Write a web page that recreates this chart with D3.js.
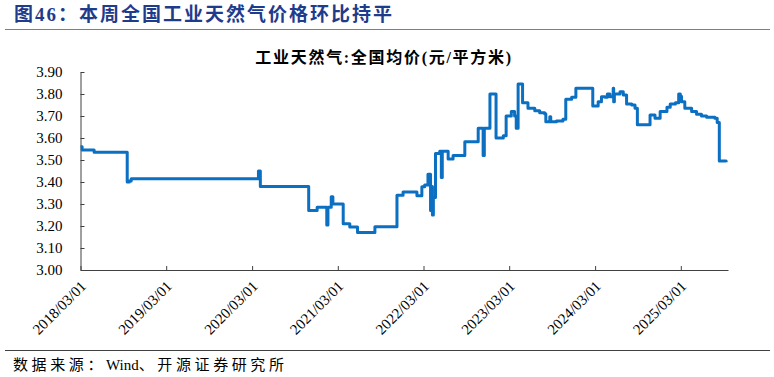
<!DOCTYPE html>
<meta charset="utf-8">
<style>
body { margin: 0; background: #fff; }
text { font-family: "Liberation Serif", "Noto Sans CJK SC", serif; }
.axis path, .axis line { stroke: #404040; }
.axis text { fill: #000; font-size: 15px; }
</style>
<body>
<script src="https://d3js.org/d3.v7.min.js"></script>
<script>

const width = 774
const height = 377

// series: weekly observed change points
const dates = ['2018-03-01','2018-03-08','2018-04-28','2018-09-16','2018-09-25','2018-10-03',
  '2020-03-28','2020-04-05','2020-10-28','2020-12-03','2021-01-13','2021-01-18','2021-02-01',
  '2021-02-08','2021-03-24','2021-04-21','2021-05-24','2021-08-06','2021-11-08','2021-12-04',
  '2022-02-01','2022-02-22','2022-03-06','2022-03-20','2022-03-31','2022-04-04','2022-04-08',
  '2022-04-12','2022-04-21','2022-05-09','2022-05-16','2022-05-20','2022-06-14','2022-07-05',
  '2022-08-24','2022-10-20','2022-11-10','2022-11-15','2022-12-09','2023-01-04','2023-02-04',
  '2023-02-16','2023-03-10','2023-03-24','2023-03-31','2023-04-08','2023-04-27','2023-05-20',
  '2023-06-18','2023-07-09','2023-07-30','2023-08-04','2023-08-21','2023-08-25','2023-09-18',
  '2023-10-16','2023-10-28','2023-11-22','2023-12-10','2024-02-20','2024-03-14','2024-03-28',
  '2024-04-12','2024-04-22','2024-05-03','2024-05-17','2024-05-19','2024-05-22','2024-06-15',
  '2024-06-29','2024-07-13','2024-08-04','2024-08-18','2024-08-28','2024-10-21','2024-11-11',
  '2024-12-03','2025-01-01','2025-01-15','2025-02-06','2025-02-20','2025-02-27','2025-03-04',
  '2025-03-18','2025-04-16','2025-05-07','2025-05-28','2025-06-19','2025-07-24','2025-08-03',
  '2025-08-12','2025-09-10']
const prices = [3.56,3.545,3.535,3.40,3.405,3.415,
  3.45,3.38,3.27,3.285,3.205,3.285,3.333,
  3.30,3.21,3.195,3.17,3.197,3.34,3.355,
  3.338,3.378,3.386,3.435,3.27,3.38,3.25,
  3.33,3.53,3.54,3.42,3.54,3.505,3.52,
  3.583,3.644,3.52,3.644,3.80,3.60,3.61,
  3.70,3.72,3.70,3.644,3.845,3.76,3.735,
  3.724,3.715,3.71,3.674,3.697,3.674,3.677,
  3.685,3.776,3.785,3.826,3.745,3.765,3.788,
  3.785,3.80,3.788,3.826,3.765,3.80,3.81,
  3.795,3.755,3.75,3.735,3.66,3.705,3.69,
  3.72,3.74,3.755,3.76,3.80,3.79,3.765,
  3.735,3.72,3.708,3.70,3.694,3.69,3.67,
  3.495,3.49]

const xTickLabels = ['2018/03/01','2019/03/01','2020/03/01','2021/03/01',
  '2022/03/01','2023/03/01','2024/03/01','2025/03/01']
const yTicks = [3.0,3.1,3.2,3.3,3.4,3.5,3.6,3.7,3.8,3.9]

const parse = d3.timeParse('%Y-%m-%d')
const parseTick = d3.timeParse('%Y/%m/%d')
const data = dates.map((d, i) => ({ date: parse(d), value: prices[i] }))

const svg = d3.select('body').append('svg')
  .attr('width', width)
  .attr('height', height)

// header
svg.append('text')
  .attr('x', 14).attr('y', 21)
  .attr('fill', '#1f3b8c')
  .style('font-size', '19px')
  .style('font-weight', 'bold')
  .style('letter-spacing', '2px')
  .text('图46：本周全国工业天然气价格环比持平')

svg.append('line')
  .attr('x1', 5).attr('x2', 770).attr('y1', 29.5).attr('y2', 29.5)
  .attr('stroke', '#7f7f7f').attr('stroke-width', 1)

svg.append('text')
  .attr('x', 384).attr('y', 63)
  .attr('text-anchor', 'middle')
  .style('font-size', '16px')
  .style('font-weight', 'bold')
  .style('letter-spacing', '1.7px')
  .text('工业天然气:全国均价(元/平方米)')

const x = d3.scaleTime()
  .domain([parse('2018-03-01'), parse('2025-09-18')])
  .range([80.5, 728])

const y = d3.scaleLinear()
  .domain([3.0, 3.9])
  .range([270, 72])

svg.append('g')
  .attr('class', 'axis')
  .attr('transform', 'translate(80.5,0)')
  .call(d3.axisLeft(y).tickValues(yTicks).tickFormat(d3.format('.2f'))
    .tickSizeInner(-4).tickSizeOuter(0).tickPadding(18))

const xAxis = svg.append('g')
  .attr('class', 'axis')
  .attr('transform', 'translate(0,270)')
  .call(d3.axisBottom(x).tickValues(xTickLabels.map(parseTick))
    .tickFormat((d, i) => xTickLabels[i])
    .tickSizeInner(-4).tickSizeOuter(0))

xAxis.selectAll('text')
  .attr('text-anchor', 'end')
  .attr('dy', 0)
  .attr('transform', 'translate(4,15) rotate(-45)')

// price line
const line = d3.line()
  .x(d => x(d.date))
  .y(d => y(d.value))
  .curve(d3.curveStepAfter)

svg.append('path')
  .datum(data)
  .attr('d', line)
  .attr('fill', 'none')
  .attr('stroke', '#0b6fc2')
  .attr('stroke-width', 3)
  .attr('stroke-linejoin', 'round')

// footer
svg.append('line')
  .attr('x1', 5).attr('x2', 770).attr('y1', 350.5).attr('y2', 350.5)
  .attr('stroke', '#404040').attr('stroke-width', 1)

const src = svg.append('text')
  .attr('x', 13).attr('y', 370)
  .style('font-size', '15px')
src.append('tspan').style('letter-spacing', '3.6px').text('数据来源：')
src.append('tspan').style('letter-spacing', '0px').text('Wind')
src.append('tspan').style('letter-spacing', '3.6px').text('、开源证券研究所')

</script>
</body>
</html>
